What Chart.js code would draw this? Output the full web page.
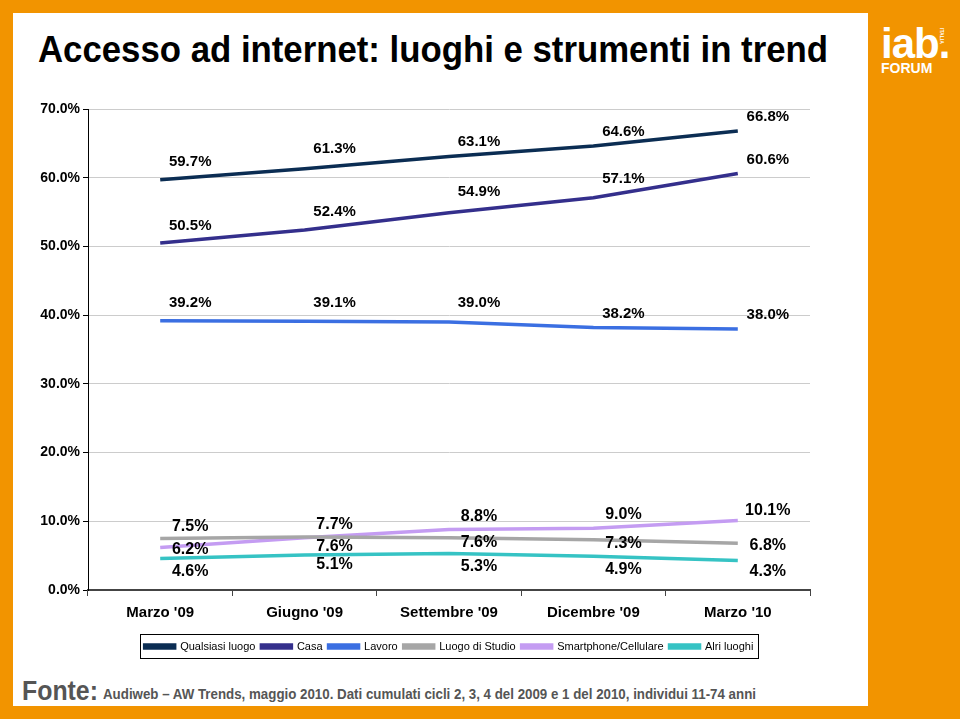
<!DOCTYPE html>
<html>
<head>
<meta charset="utf-8">
<script src="https://cdn.jsdelivr.net/npm/chart.js@4/dist/chart.umd.min.js"></script>
<style>
  html, body { margin: 0; padding: 0; }
  body { width: 960px; height: 719px; background: #f29400; position: relative; overflow: hidden; font-family: "Liberation Sans", Arial, sans-serif; }
  #panel { position: absolute; left: 13px; top: 13px; width: 855px; height: 693px; background: #fff; }
  #title { position: absolute; left: 38px; top: 30px; margin: 0; font-family: "Liberation Sans", Arial, sans-serif; font-weight: bold; font-size: 36px; line-height: 40px; color: #000; white-space: nowrap; transform-origin: 0 0; }
  #logo { position: absolute; left: 881px; top: 24px; color: #fff; font-family: "Liberation Sans", sans-serif; font-weight: bold; }
  #logo .iab { font-size: 42px; line-height: 40px; letter-spacing: -1px; }
  #logo .forum { font-size: 14px; line-height: 14px; margin-top: -3px; }
  #logo .it { position: absolute; left: 58px; top: 4px; font-size: 5px; writing-mode: vertical-rl; }
  #chartBox { position: absolute; left: 13px; top: 90px; width: 855px; height: 580px; }
  #footer { position: absolute; left: 22px; top: 676px; color: #555; font-family: "Liberation Sans", Arial, sans-serif; white-space: nowrap; }
  #footer span { display: inline-block; transform-origin: 0 100%; }
  #footer .fonte { font-size: 27px; font-weight: bold; }
  #footer .src { position: absolute; left: 81px; bottom: 5px; font-size: 15px; font-weight: bold; }
</style>
</head>
<body>
<div id="panel"></div>
<h1 id="title">Accesso ad internet: luoghi e strumenti in trend</h1>
<div id="logo"><div class="iab">iab.</div><div class="forum">FORUM</div><div class="it">ITALIA</div></div>
<div id="chartBox"><canvas id="chartTrend"></canvas></div>
<div id="footer"><span class="fonte">Fonte:</span><span class="src">Audiweb – AW Trends, maggio 2010. Dati cumulati cicli 2, 3, 4 del 2009 e 1 del 2010, individui 11-74 anni</span></div>
<script>
// testi stretti come nell'originale
function fitWidth(el, w) {
  var cur = el.getBoundingClientRect().width
  el.style.transform = 'scaleX(' + (w / cur) + ')'
}
fitWidth(document.getElementById('title'), 790)
fitWidth(document.querySelector('#footer .fonte'), 76)
fitWidth(document.querySelector('#footer .src'), 653)

// dati
var periodi = ["Marzo '09", "Giugno '09", "Settembre '09", "Dicembre '09", "Marzo '10"]
var qualsiasiLuogo = [59.7, 61.3, 63.1, 64.6, 66.8]
var casa = [50.5, 52.4, 54.9, 57.1, 60.6]
var lavoro = [39.2, 39.1, 39.0, 38.2, 38.0]
var luogoDiStudio = [7.5, 7.7, 7.6, 7.3, 6.8]
var smartphone = [6.2, 7.6, 8.8, 9.0, 10.1]
var altriLuoghi = [4.6, 5.1, 5.3, 4.9, 4.3]

// spostamento verticale delle etichette (px), per serie
var labelDy = [
  [-18, -20, -15, -14, -14],
  [-17, -18, -21, -19, -14],
  [-18, -18, -19, -14, -14],
  [-12, -12, 5, 4, 2],
  [2, 9, -13, -14, -10],
  [13, 10, 13, 13, 11]
]

var valueLabels = {
  id: 'valueLabels',
  afterDatasetsDraw: function (chart) {
    var ctx = chart.ctx
    ctx.save()
    ctx.fillStyle = '#000'
    ctx.textAlign = 'center'
    ctx.textBaseline = 'middle'
    chart.data.datasets.forEach(function (ds, d) {
      ctx.font = (d >= 3 ? 'bold 16px' : 'bold 15px') + ' "Liberation Sans", Arial, sans-serif'
      chart.getDatasetMeta(d).data.forEach(function (pt, i) {
        ctx.fillText(ds.data[i].toFixed(1) + '%', pt.x + 30, pt.y + labelDy[d][i])
      })
    })
    ctx.restore()
  }
}

var legendBorder = {
  id: 'legendBorder',
  afterDraw: function (chart) {
    var boxes = chart.legend.legendHitBoxes
    if (!boxes || !boxes.length) return
    var l = boxes[0].left, r = boxes[0].left + boxes[0].width
    var t = boxes[0].top, b = boxes[0].top + boxes[0].height
    boxes.forEach(function (h) {
      l = Math.min(l, h.left); r = Math.max(r, h.left + h.width)
      t = Math.min(t, h.top); b = Math.max(b, h.top + h.height)
    })
    var ctx = chart.ctx
    ctx.save()
    ctx.strokeStyle = '#000'
    ctx.lineWidth = 1
    ctx.strokeRect(Math.round(l - 5) + 0.5, Math.round(t - 7) + 0.5, Math.round(r - l + 9), Math.round(b - t + 13))
    ctx.restore()
  }
}

function serie(label, data, color) {
  return { label: label, data: data, borderColor: color, backgroundColor: color, borderWidth: 3.5, pointRadius: 0, tension: 0, fill: false }
}

var chartTrendCanvas = document.getElementById('chartTrend').getContext('2d')
new Chart(chartTrendCanvas, {
  type: 'line',
  data: {
    labels: periodi,
    datasets: [
      serie('Qualsiasi luogo', qualsiasiLuogo, '#0b2d53'),
      serie('Casa', casa, '#342f8c'),
      serie('Lavoro', lavoro, '#3b6fe2'),
      serie('Luogo di Studio', luogoDiStudio, '#a6a6a6'),
      serie('Smartphone/Cellulare', smartphone, '#c49cf2'),
      serie('Alri luoghi', altriLuoghi, '#36c3c4')
    ]
  },
  options: {
    responsive: true,
    maintainAspectRatio: false,
    animation: false,
    layout: { padding: { left: 0, right: 58, top: 19, bottom: 8 } },
    plugins: {
      tooltip: { enabled: false },
      legend: {
        position: 'bottom',
        fullSize: false,
        labels: {
          boxWidth: 30,
          boxHeight: 3,
          padding: 6,
          color: '#000',
          font: { family: '"Liberation Sans", Arial, sans-serif', size: 11 }
        }
      }
    },
    scales: {
      x: {
        offset: true,
        border: { color: '#444', width: 2 },
        grid: { display: true, drawOnChartArea: false, offset: true, tickLength: 6, color: '#444' },
        ticks: { color: '#000', padding: 8, font: { family: '"Liberation Sans", Arial, sans-serif', size: 15, weight: 'bold' } },
        afterFit: function (scale) { scale.height = 45 }
      },
      y: {
        min: 0,
        max: 70,
        border: { color: '#000', width: 1 },
        grid: { color: '#cccccc', tickColor: '#000', tickLength: 5 },
        ticks: {
          stepSize: 10,
          color: '#000',
          padding: 3,
          font: { family: '"Liberation Sans", Arial, sans-serif', size: 14, weight: 'bold' },
          callback: function (v) { return v.toFixed(1) + '%' }
        },
        afterFit: function (scale) { scale.width = 75 }
      }
    }
  },
  plugins: [valueLabels, legendBorder]
})
</script>
</body>
</html>
